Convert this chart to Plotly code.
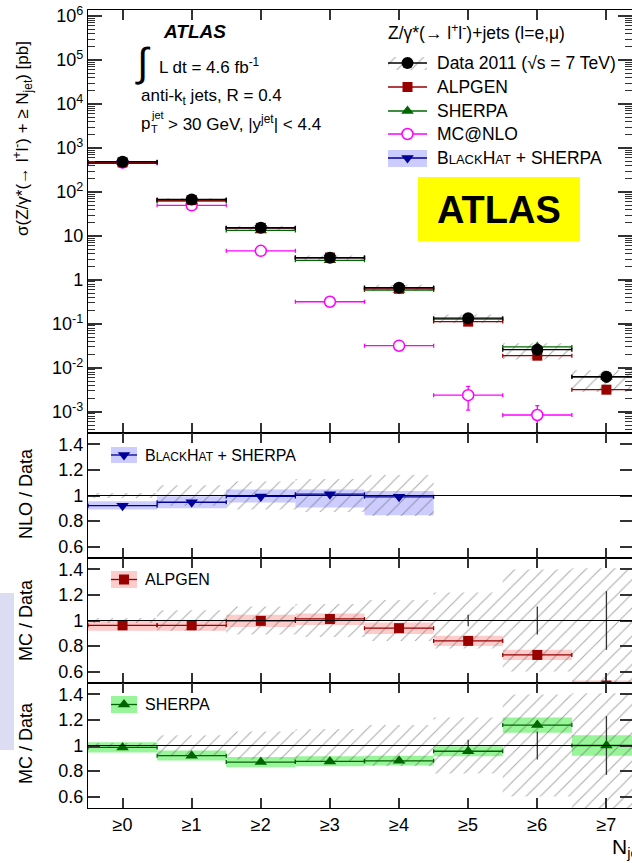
import plotly.graph_objects as go

W, H = 632, 863
FONT = "Liberation Sans, Arial, Helvetica, sans-serif"

# ---------------- data ----------------
categories = ["≥0", "≥1", "≥2", "≥3", "≥4", "≥5", "≥6", "≥7"]
xpos = [0, 1, 2, 3, 4, 5, 6, 7]

data_xs = [490, 68, 15.4, 3.2, 0.67, 0.135, 0.026, 0.0063]
data_syst_up = [0.02, 0.08, 0.11, 0.13, 0.16, 0.22, 0.40, 0.41]
data_syst_dn = [0.02, 0.08, 0.11, 0.13, 0.16, 0.22, 0.40, 0.55]
data_stat = [0.002, 0.004, 0.007, 0.012, 0.02, 0.045, 0.11, 0.23]

alpgen_xs = [472, 65.5, 15.3, 3.24, 0.63, 0.113, 0.019, 0.0032]
sherpa_xs = [480, 62.5, 13.4, 2.8, 0.59, 0.129, 0.030, 0.0063]
mcnlo_xs = [470, 50, 4.6, 0.32, 0.032, 0.0024, 0.00085]
mcnlo_err_up = [0, 0, 0, 0, 0, 0.0014, 0.00054]
mcnlo_err_dn = [0, 0, 0, 0, 0, 0.0013, 0.00051]
blackhat_xs = [451, 64.6, 15.3, 3.23, 0.663]

bh_ratio = [0.92, 0.947, 0.993, 1.01, 0.99]
bh_band_lo = [0.89, 0.90, 0.945, 0.905, 0.845]
bh_band_hi = [0.955, 0.995, 1.047, 1.047, 1.035]

alp_ratio = [0.962, 0.962, 0.997, 1.012, 0.94, 0.84, 0.73, 0.49]
alp_band_lo = [0.92, 0.92, 0.95, 0.965, 0.895, 0.80, 0.69, 0.45]
alp_band_hi = [1.0, 1.0, 1.045, 1.055, 0.985, 0.88, 0.77, 0.53]

sh_ratio = [0.985, 0.92, 0.87, 0.875, 0.88, 0.955, 1.16, 1.0]
sh_band_lo = [0.945, 0.882, 0.83, 0.838, 0.843, 0.916, 1.10, 0.92]
sh_band_hi = [1.025, 0.96, 0.909, 0.915, 0.92, 0.994, 1.22, 1.08]

main_tickvals = [1e-3, 1e-2, 1e-1, 1, 10, 1e2, 1e3, 1e4, 1e5, 1e6]
main_ticktext = ["10<sup>-3</sup>", "10<sup>-2</sup>", "10<sup>-1</sup>", "1", "10",
                 "10<sup>2</sup>", "10<sup>3</sup>", "10<sup>4</sup>", "10<sup>5</sup>", "10<sup>6</sup>"]
ratio_tickvals = [0.6, 0.8, 1.0, 1.2, 1.4]
ratio_ticktext = ["0.6", "0.8", "1", "1.2", "1.4"]

# colours
C_ALP = "#990000"
C_SH = "#006600"
C_BH = "#000099"
C_NLO = "#ff00ff"
B_ALP = "#ffcccc"
B_SH = "#99f599"
B_BH = "#ccccff"
HATCH = "#555555"
HSIZE, HSOL = 10, 0.1
LW = 1.2

# ---------------- layout geometry (pixels) ----------------
def ydom(top, bot):
    return [1 - bot / H, 1 - top / H]

XDOM = [88 / W, 1.0]
PANELS = {"": ydom(10, 433), "2": ydom(433, 558), "3": ydom(558, 683), "4": ydom(683, 808)}

fig = go.Figure()


def hatch_bar(x, lo, hi, xa, ya):
    return go.Bar(x=x, base=lo, y=[h - l for h, l in zip(hi, lo)], width=1,
                  xaxis=xa, yaxis=ya, showlegend=False, hoverinfo="skip",
                  marker=dict(color="rgba(0,0,0,0)", line=dict(width=0),
                              pattern=dict(shape="/", fgcolor=HATCH, bgcolor="rgba(0,0,0,0)",
                                           size=HSIZE, solidity=HSOL)))


def band_bar(x, lo, hi, color, xa, ya):
    return go.Bar(x=x, base=lo, y=[h - l for h, l in zip(hi, lo)], width=1,
                  xaxis=xa, yaxis=ya, showlegend=False, hoverinfo="skip",
                  marker=dict(color=color, line=dict(width=0)))


def marker_style(color, symbol, size, open_):
    if open_:
        return dict(color="white", symbol="circle", size=size, line=dict(color=color, width=1.5))
    return dict(color=color, symbol=symbol, size=size, line=dict(width=0))


def series(x, y, color, symbol, size, xa, ya, open_=False, ey_up=None, ey_dn=None, thick=1.3):
    ey = None
    if ey_up is not None:
        ey = dict(type="data", symmetric=False, array=ey_up, arrayminus=ey_dn,
                  color=color, thickness=thick, width=2)
    return go.Scatter(x=x, y=y, mode="markers", marker=marker_style(color, symbol, size, open_),
                      xaxis=xa, yaxis=ya, showlegend=False, hoverinfo="skip",
                      error_x=dict(type="data", array=[0.5] * len(x), color=color,
                                   thickness=thick, width=2),
                      error_y=ey)


# ---------------- main panel ----------------
main_lo = [d * (1 - e) for d, e in zip(data_xs, data_syst_dn)]
main_hi = [d * (1 + e) for d, e in zip(data_xs, data_syst_up)]
fig.add_trace(hatch_bar(xpos, main_lo, main_hi, "x", "y"))
fig.add_trace(series(xpos[:5], blackhat_xs, C_BH, "triangle-down", 11, "x", "y"))
fig.add_trace(series(xpos[:7], mcnlo_xs, C_NLO, "circle", 11, "x", "y", open_=True,
                     ey_up=mcnlo_err_up, ey_dn=mcnlo_err_dn))
fig.add_trace(series(xpos, sherpa_xs, C_SH, "triangle-up", 11, "x", "y"))
fig.add_trace(series(xpos, alpgen_xs, C_ALP, "square", 10, "x", "y"))
fig.add_trace(series(xpos, data_xs, "black", "circle", 12, "x", "y",
                     ey_up=[d * s for d, s in zip(data_xs, data_stat)],
                     ey_dn=[d * s for d, s in zip(data_xs, data_stat)]))

# ---------------- ratio panels ----------------
r_lo = [1 - e for e in data_syst_dn]
r_hi = [1 + e for e in data_syst_up]

# panel 1: BlackHat + Sherpa
fig.add_trace(band_bar(xpos[:5], bh_band_lo, bh_band_hi, B_BH, "x2", "y2"))
fig.add_trace(hatch_bar(xpos[:5], r_lo[:5], r_hi[:5], "x2", "y2"))
fig.add_trace(series(xpos[:5], bh_ratio, C_BH, "triangle-down", 11, "x2", "y2"))

# panel 2: ALPGEN
fig.add_trace(band_bar(xpos, alp_band_lo, alp_band_hi, B_ALP, "x3", "y3"))
fig.add_trace(hatch_bar(xpos, r_lo, r_hi, "x3", "y3"))
fig.add_trace(go.Scatter(x=xpos[5:], y=[1, 1, 1], mode="markers", marker=dict(size=0.1, color="black"),
                         xaxis="x3", yaxis="y3", showlegend=False, hoverinfo="skip",
                         error_y=dict(type="data", array=data_stat[5:], color="#333", thickness=1.3, width=0)))
fig.add_trace(series(xpos, alp_ratio, C_ALP, "square", 10, "x3", "y3"))

# panel 3: SHERPA
fig.add_trace(band_bar(xpos, sh_band_lo, sh_band_hi, B_SH, "x4", "y4"))
fig.add_trace(hatch_bar(xpos, r_lo, r_hi, "x4", "y4"))
fig.add_trace(go.Scatter(x=xpos[5:], y=[1, 1, 1], mode="markers", marker=dict(size=0.1, color="black"),
                         xaxis="x4", yaxis="y4", showlegend=False, hoverinfo="skip",
                         error_y=dict(type="data", array=data_stat[5:], color="#333", thickness=1.3, width=0)))
fig.add_trace(series(xpos, sh_ratio, C_SH, "triangle-up", 11, "x4", "y4"))

# ---------------- legend keys (pixel overlay axis) ----------------
LX0, LX1, LXM = 388, 427, 407.5
fig.add_trace(go.Scatter(x=[LX0, LX1, LX1, LX0, LX0], y=[57, 57, 70, 70, 57], mode="lines",
                         fill="toself", line=dict(width=0), fillcolor="rgba(0,0,0,0)",
                         fillpattern=dict(shape="/", fgcolor=HATCH, size=HSIZE, solidity=HSOL),
                         xaxis="x5", yaxis="y5", showlegend=False, hoverinfo="skip"))


def key(xa, xm, xb, yrow, color, symbol, size, open_=False):
    fig.add_trace(go.Scatter(x=[xa, xb], y=[yrow, yrow], mode="lines",
                             line=dict(color=color, width=1.3), xaxis="x5", yaxis="y5",
                             showlegend=False, hoverinfo="skip"))
    fig.add_trace(go.Scatter(x=[xm], y=[yrow], mode="markers",
                             marker=marker_style(color, symbol, size, open_),
                             xaxis="x5", yaxis="y5", showlegend=False, hoverinfo="skip"))


key(LX0, LXM, LX1, 63, "black", "circle", 12)
key(LX0, LXM, LX1, 87, C_ALP, "square", 10)
key(LX0, LXM, LX1, 111, C_SH, "triangle-up", 11)
key(LX0, LXM, LX1, 134, C_NLO, "circle", 11, open_=True)
key(LX0, LXM, LX1, 158, C_BH, "triangle-down", 11)
key(111, 124, 137, 455, C_BH, "triangle-down", 11)
key(111, 124, 137, 579.5, C_ALP, "square", 10)
key(111, 124, 137, 704.5, C_SH, "triangle-up", 11)

# ---------------- shapes ----------------
shapes = []
shapes.append(dict(type="rect", xref="x5", yref="y5", x0=LX0, x1=LX1, y0=150, y1=167,
                   fillcolor=B_BH, line=dict(width=0), layer="below"))
shapes.append(dict(type="rect", xref="x5", yref="y5", x0=111, x1=137, y0=447, y1=463,
                   fillcolor=B_BH, line=dict(width=0), layer="below"))
shapes.append(dict(type="rect", xref="x5", yref="y5", x0=111, x1=137, y0=571, y1=588,
                   fillcolor=B_ALP, line=dict(width=0), layer="below"))
shapes.append(dict(type="rect", xref="x5", yref="y5", x0=111, x1=137, y0=696, y1=713,
                   fillcolor=B_SH, line=dict(width=0), layer="below"))
shapes.append(dict(type="rect", xref="x5", yref="y5", x0=418, x1=580, y0=177, y1=241,
                   fillcolor="#ffff00", line=dict(width=0), layer="below"))
shapes.append(dict(type="rect", xref="x5", yref="y5", x0=0, x1=14, y0=593, y1=750,
                   fillcolor="#dcdcf2", line=dict(width=0), layer="below"))
for s in ["2", "3", "4"]:
    shapes.append(dict(type="line", xref=f"x{s} domain", yref=f"y{s}", x0=0, x1=1, y0=1, y1=1,
                       line=dict(color="black", width=1.2), layer="above"))

# ---------------- annotations ----------------
ann = []


def text(x, y, t, size=17, xanchor="left", angle=0, bold=False, italic=False, color="black"):
    f = dict(family=FONT, size=size, color=color)
    if bold:
        f["weight"] = "bold"
    if italic:
        f["style"] = "italic"
    ann.append(dict(x=x, y=y, xref="x5", yref="y5", text=t, showarrow=False, font=f,
                    xanchor=xanchor, yanchor="middle", textangle=angle))


def small_caps_bh(small):
    return (f"B<span style='font-size:{small}px'>LACK</span>H<span style='font-size:{small}px'>AT</span>"
            " + SHERPA")


text(161, 31, "ATLAS", size=19, bold=True, italic=True)
text(143, 62, "∫", size=40, xanchor="center")
text(157, 66, "L dt = 4.6 fb<sup>-1</sup>", size=17)
text(139, 97, "anti-k<sub>t</sub> jets, R = 0.4", size=17)
text(139, 123, "p", size=17)
text(149, 115, "jet", size=11)
text(149, 129, "T", size=11)
text(166, 123, "> 30 GeV, |y<sup>jet</sup>| < 4.4", size=17)

text(386, 32, "Z/γ*(→ l<sup>+</sup>l<sup>-</sup>)+jets (l=e,μ)", size=17.5)
text(435, 63, "Data 2011 (√s = 7 TeV)", size=17.5)
text(435, 87, "ALPGEN", size=17.5)
text(435, 111, "SHERPA", size=17.5)
text(435, 134, "MC@NLO", size=17.5)
text(435, 158, small_caps_bh(13), size=17.5)

text(499, 210, "ATLAS", size=38, bold=True, xanchor="center")

text(143, 455, small_caps_bh(12), size=16)
text(143, 579.5, "ALPGEN", size=16)
text(143, 704.5, "SHERPA", size=16)

text(22, 139, "σ(Z/γ*(→ l<sup>+</sup>l<sup>-</sup>) + ≥ N<sub>jet</sub>) [pb]", size=17,
     xanchor="center", angle=-90)
text(26, 494, "NLO / Data", size=18, xanchor="center", angle=-90)
text(26, 620, "MC / Data", size=18, xanchor="center", angle=-90)
text(26, 743, "MC / Data", size=18, xanchor="center", angle=-90)
text(610, 848, "N<sub>jet</sub>", size=21)

# ---------------- axes ----------------
tickfont = dict(family=FONT, size=18, color="black")
xcommon = dict(range=[-0.5, 7.37], tickvals=xpos, ticktext=categories, ticks="inside", ticklen=10,
               tickwidth=1.5, tickcolor="#333", showline=True, linecolor="black", linewidth=LW,
               mirror="allticks", showgrid=False, zeroline=False, domain=XDOM, tickfont=tickfont)

minor_vals = [m * 10 ** k for k in range(-4, 7) for m in range(2, 10)]

layout = dict(
    width=W, height=H, margin=dict(l=0, r=0, t=0, b=0, autoexpand=False),
    paper_bgcolor="white", plot_bgcolor="rgba(0,0,0,0)", barmode="overlay",
    showlegend=False, shapes=shapes, annotations=ann,
    font=dict(family=FONT, color="black"),
    xaxis=dict(**xcommon, anchor="y", showticklabels=False),
    xaxis2=dict(**xcommon, anchor="y2", matches="x", showticklabels=False),
    xaxis3=dict(**xcommon, anchor="y3", matches="x", showticklabels=False),
    xaxis4=dict(**xcommon, anchor="y4", matches="x", showticklabels=True),
    yaxis=dict(type="log", range=[-3.48, 6.14], domain=PANELS[""], anchor="x",
               tickvals=main_tickvals, ticktext=main_ticktext, ticks="inside", ticklen=14,
               tickwidth=1.5, tickcolor="#333", showline=True, linecolor="black", linewidth=LW,
               mirror="allticks", showgrid=False, zeroline=False, tickfont=tickfont,
               minor=dict(tickvals=minor_vals, ticks="inside", ticklen=7, tickcolor="#333",
                          tickwidth=1, showgrid=False)),
    xaxis5=dict(domain=[0, 1], range=[0, W], visible=False, anchor="y5", fixedrange=True),
    yaxis5=dict(domain=[0, 1], range=[H, 0], visible=False, anchor="x5", fixedrange=True),
)
for s in ["2", "3", "4"]:
    layout[f"yaxis{s}"] = dict(range=[0.51, 1.49], domain=PANELS[s], anchor=f"x{s}",
                               tickvals=ratio_tickvals, ticktext=ratio_ticktext, ticks="inside",
                               ticklen=12, tickwidth=1.5, tickcolor="#333", showline=True,
                               linecolor="black", linewidth=LW, mirror="allticks", showgrid=False,
                               zeroline=False, tickfont=tickfont)

fig.update_layout(**layout)
fig.write_html("out.html")
